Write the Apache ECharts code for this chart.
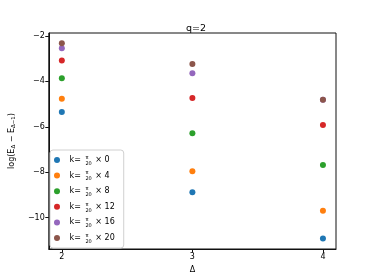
<!DOCTYPE html>
<html><head><meta charset="utf-8">
<script src="https://cdn.jsdelivr.net/npm/echarts@6/dist/echarts.min.js"></script>
<style>html,body{margin:0;padding:0;background:#fff}#c{width:374px;height:280px}</style>
</head><body><div id="c"></div>
<script>
const deltas = [2, 3, 4];
const kMultipliers = [0, 4, 8, 12, 16, 20];
const colors = ['#1f77b4', '#ff7f0e', '#2ca02c', '#d62728', '#9467bd', '#8c564b'];
const k0 = [-5.35, -8.88, -10.92];
const k4 = [-4.76, -7.96, -9.70];
const k8 = [-3.86, -6.28, -7.68];
const k12 = [-3.08, -4.73, -5.92];
const k16 = [-2.54, -3.64, -4.81];
const k20 = [-2.32, -3.24, -4.81];
const seriesValues = [k0, k4, k8, k12, k16, k20];
const xTicks = [2, 3, 4];
const yTicks = [-10, -8, -6, -4, -2];

const FONT = 'DejaVu Sans';
const fmtMinus = v => (v < 0 ? '\u2212' + Math.abs(v) : String(v));
const names = kMultipliers.map(k => 'k' + k);

const chart = echarts.init(document.getElementById('c'), null, {renderer: 'canvas'});
chart.setOption({
  animation: false,
  backgroundColor: '#fff',
  title: {
    text: 'q=2', left: 181, top: 19,
    textStyle: {fontFamily: FONT, fontSize: 9.5, fontWeight: 'normal', color: '#000'}
  },
  grid: {left: 46, right: 38, top: 33, bottom: 31, show: true, borderColor: '#111', borderWidth: 1, backgroundColor: 'transparent'},
  xAxis: {
    type: 'value', min: 1.9, max: 4.1,
    name: 'Δ', nameLocation: 'middle', nameGap: 17,
    nameTextStyle: {fontFamily: FONT, fontSize: 8, color: '#000'},
    splitLine: {show: false},
    axisLine: {show: true, onZero: false, lineStyle: {color: '#111'}},
    axisTick: {show: true, customValues: xTicks, length: 3.5, lineStyle: {color: '#111'}},
    axisLabel: {customValues: xTicks, fontFamily: FONT, fontSize: 8, color: '#000', margin: 4, formatter: fmtMinus}
  },
  yAxis: {
    type: 'value', min: -11.38, max: -1.87,
    name: '{a|log(E}{s|Δ}{a| − E}{s|Δ−1}{a|)}', nameLocation: 'middle', nameGap: 30, nameRotate: 90,
    nameTextStyle: {
      rich: {
        a: {fontFamily: FONT, fontSize: 8, color: '#000'},
        s: {fontFamily: FONT, fontSize: 5.5, color: '#000', padding: [4, 0, 0, 0]}
      }
    },
    splitLine: {show: false},
    axisLine: {show: true, onZero: false, lineStyle: {color: '#111'}},
    axisTick: {show: true, customValues: yTicks, length: 3.5, lineStyle: {color: '#111'}},
    axisLabel: {customValues: yTicks, fontFamily: FONT, fontSize: 8, color: '#000', margin: 4, formatter: fmtMinus}
  },
  legend: {
    orient: 'vertical', left: 50, top: 150,
    data: names,
    icon: 'circle', itemWidth: 15, itemHeight: 6, itemGap: 1.6,
    padding: [3, 9, 3, 4],
    borderColor: '#d0d0d0', borderWidth: 1, borderRadius: 3,
    backgroundColor: 'rgba(255,255,255,0.8)',
    formatter: function (n) {
      const k = n.slice(1);
      return '{a|k= }{n|π}{d|20}{a| × ' + k + '}';
    },
    textStyle: {
      fontFamily: FONT, fontSize: 8, color: '#000', lineHeight: 14,
      rich: {
        a: {fontFamily: FONT, fontSize: 8, color: '#000', lineHeight: 14},
        n: {fontFamily: FONT, fontSize: 5, color: '#000', width: 0.01, align: 'left', verticalAlign: 'top', padding: [2, 0, 0, 2], lineHeight: 7},
        d: {fontFamily: FONT, fontSize: 5, color: '#000', verticalAlign: 'bottom', padding: [0, 1, 1, 0], lineHeight: 7}
      }
    }
  },
  series: seriesValues.map((vals, i) => ({
    name: names[i],
    type: 'scatter',
    symbolSize: 6,
    itemStyle: {color: colors[i], opacity: 1},
    data: deltas.map((d, j) => [d, vals[j]])
  }))
});
</script></body></html>
